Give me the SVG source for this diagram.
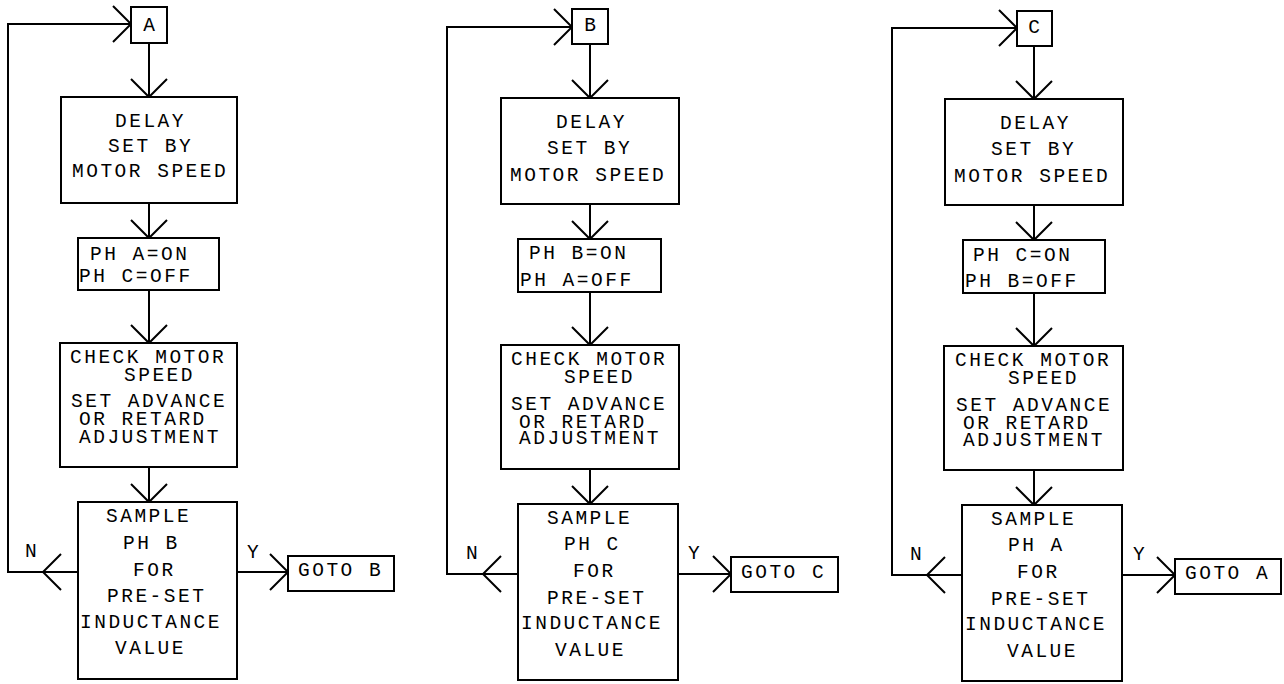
<svg xmlns="http://www.w3.org/2000/svg" width="1284" height="684" viewBox="0 0 1284 684">
<style>
.box{fill:#fff;stroke:#000;stroke-width:2}
.ln{fill:none;stroke:#000;stroke-width:2}
text{font-family:"Liberation Mono","Courier New",monospace;font-size:19.5px;letter-spacing:2.5px;fill:#000}
.c{text-anchor:middle;letter-spacing:0}
</style>
<defs>
<marker id="arr" markerUnits="userSpaceOnUse" viewBox="-20 -20 22 40" refX="0" refY="0" markerWidth="22" markerHeight="40" orient="auto" overflow="visible">
<path d="M-18,-18 L0,0 L-18,18" fill="none" stroke="#000" stroke-width="2"/>
</marker>
</defs>
<rect width="1284" height="684" fill="#fff"/>

<g id="connectors" class="ln" marker-end="url(#arr)">
<!-- column 1 -->
<path d="M149,43 V97"/>
<path d="M149,203 V238"/>
<path d="M149,290 V343"/>
<path d="M149,467 V502"/>
<path d="M78,572 H43"/>
<path d="M43,572 H8 V24 H131"/>
<path d="M237,572 H288"/>
<!-- column 2 -->
<path d="M590,44 V98"/>
<path d="M590,204 V239"/>
<path d="M590,292 V345"/>
<path d="M590,469 V504"/>
<path d="M518,574 H483"/>
<path d="M483,574 H447 V27 H572"/>
<path d="M678,574 H731"/>
<!-- column 3 -->
<path d="M1034,46 V99"/>
<path d="M1034,205 V240"/>
<path d="M1034,293 V346"/>
<path d="M1034,470 V505"/>
<path d="M962,575 H927"/>
<path d="M927,575 H892 V28 H1017"/>
<path d="M1122,575 H1175"/>
</g>

<g id="labels">
<text x="25" y="557">N</text>
<text x="247" y="558">Y</text>
<text x="466" y="559">N</text>
<text x="688" y="559">Y</text>
<text x="910" y="560">N</text>
<text x="1133" y="560">Y</text>
</g>

<!-- column 1 -->
<g id="startA"><rect class="box" x="131" y="7" width="36" height="36"/><text class="c" x="149" y="31">A</text></g>
<g id="delayA"><rect class="box" x="61" y="97" width="176" height="106"/>
<text><tspan x="115" y="127">DELAY</tspan><tspan x="108" y="152">SET BY</tspan><tspan x="72" y="177">MOTOR SPEED</tspan></text></g>
<g id="phaseA"><rect class="box" x="78" y="238" width="141" height="52"/>
<text><tspan x="90" y="260">PH A=ON</tspan><tspan x="79" y="282">PH C=OFF</tspan></text></g>
<g id="checkA"><rect class="box" x="60" y="343" width="177" height="124"/>
<text><tspan x="70" y="363">CHECK MOTOR</tspan><tspan x="124" y="381">SPEED</tspan><tspan x="71" y="407">SET ADVANCE</tspan><tspan x="79" y="425">OR RETARD</tspan><tspan x="79" y="443">ADJUSTMENT</tspan></text></g>
<g id="sampleA"><rect class="box" x="78" y="502" width="159" height="177"/>
<text><tspan x="106" y="522">SAMPLE</tspan><tspan x="123" y="549">PH B</tspan><tspan x="133" y="576">FOR</tspan><tspan x="107" y="602">PRE-SET</tspan><tspan x="80" y="628">INDUCTANCE</tspan><tspan x="115" y="654">VALUE</tspan></text></g>
<g id="gotoB"><rect class="box" x="288" y="556" width="106" height="35"/><text x="298" y="576">GOTO B</text></g>

<!-- column 2 -->
<g id="startB"><rect class="box" x="572" y="9" width="36" height="35"/><text class="c" x="590" y="31">B</text></g>
<g id="delayB"><rect class="box" x="501" y="98" width="178" height="106"/>
<text><tspan x="556" y="128">DELAY</tspan><tspan x="547" y="154">SET BY</tspan><tspan x="510" y="181">MOTOR SPEED</tspan></text></g>
<g id="phaseB"><rect class="box" x="518" y="239" width="143" height="53"/>
<text><tspan x="529" y="259">PH B=ON</tspan><tspan x="520" y="286">PH A=OFF</tspan></text></g>
<g id="checkB"><rect class="box" x="501" y="345" width="178" height="124"/>
<text><tspan x="511" y="365">CHECK MOTOR</tspan><tspan x="564" y="383">SPEED</tspan><tspan x="511" y="410">SET ADVANCE</tspan><tspan x="519" y="428">OR RETARD</tspan><tspan x="519" y="444">ADJUSTMENT</tspan></text></g>
<g id="sampleB"><rect class="box" x="518" y="504" width="160" height="176"/>
<text><tspan x="547" y="524">SAMPLE</tspan><tspan x="564" y="550">PH C</tspan><tspan x="573" y="577">FOR</tspan><tspan x="547" y="604">PRE-SET</tspan><tspan x="521" y="629">INDUCTANCE</tspan><tspan x="555" y="656">VALUE</tspan></text></g>
<g id="gotoC"><rect class="box" x="731" y="557" width="107" height="35"/><text x="741" y="578">GOTO C</text></g>

<!-- column 3 -->
<g id="startC"><rect class="box" x="1017" y="11" width="35" height="35"/><text class="c" x="1034" y="33">C</text></g>
<g id="delayC"><rect class="box" x="945" y="99" width="178" height="106"/>
<text><tspan x="1000" y="129">DELAY</tspan><tspan x="991" y="155">SET BY</tspan><tspan x="954" y="182">MOTOR SPEED</tspan></text></g>
<g id="phaseC"><rect class="box" x="963" y="240" width="142" height="53"/>
<text><tspan x="973" y="261">PH C=ON</tspan><tspan x="965" y="287">PH B=OFF</tspan></text></g>
<g id="checkC"><rect class="box" x="944" y="346" width="179" height="124"/>
<text><tspan x="955" y="366">CHECK MOTOR</tspan><tspan x="1008" y="384">SPEED</tspan><tspan x="956" y="411">SET ADVANCE</tspan><tspan x="963" y="429">OR RETARD</tspan><tspan x="963" y="446">ADJUSTMENT</tspan></text></g>
<g id="sampleC"><rect class="box" x="962" y="505" width="160" height="176"/>
<text><tspan x="991" y="525">SAMPLE</tspan><tspan x="1008" y="551">PH A</tspan><tspan x="1017" y="578">FOR</tspan><tspan x="991" y="605">PRE-SET</tspan><tspan x="965" y="630">INDUCTANCE</tspan><tspan x="1007" y="657">VALUE</tspan></text></g>
<g id="gotoA"><rect class="box" x="1175" y="559" width="106" height="35"/><text x="1185" y="579">GOTO A</text></g>
</svg>
